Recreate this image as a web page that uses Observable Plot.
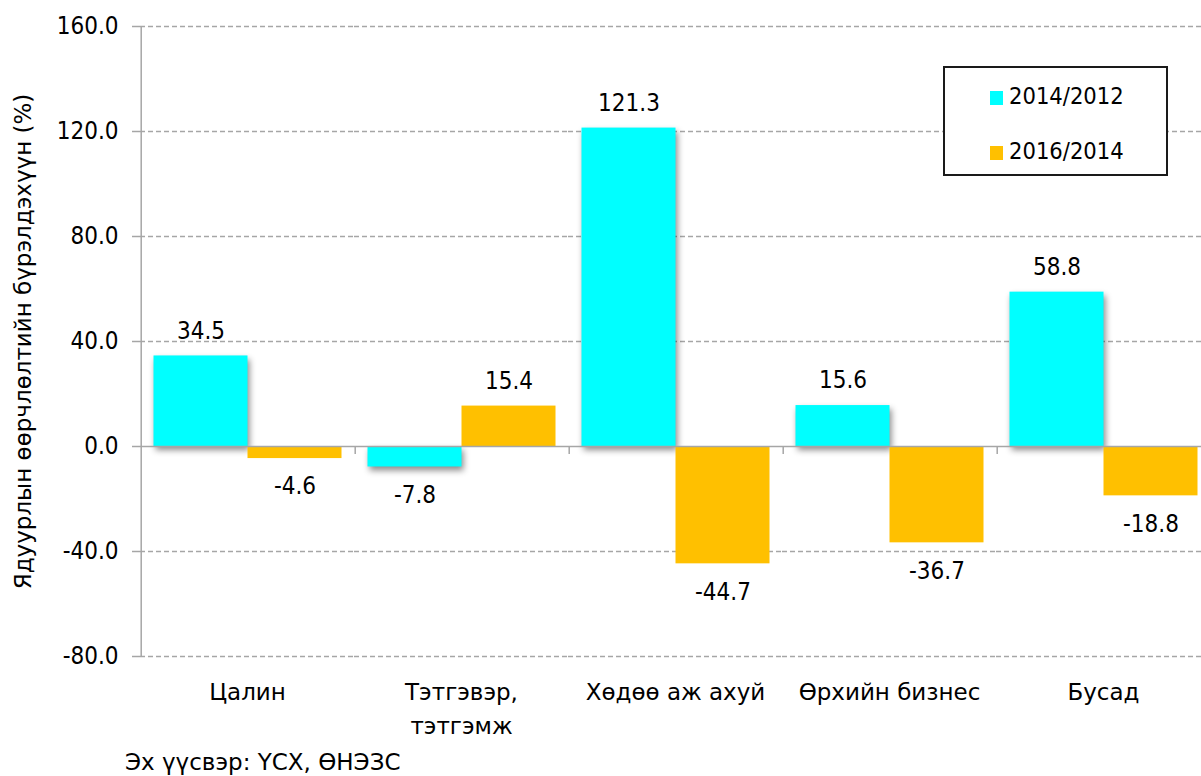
<!DOCTYPE html>
<html>
<head>
<meta charset="utf-8">
<script src="https://cdn.jsdelivr.net/npm/d3@7"></script>
<script src="https://cdn.jsdelivr.net/npm/@observablehq/plot@0.6"></script>
<style>
  html, body { margin: 0; padding: 0; background: #fff; overflow: hidden; }
  body { width: 1201px; height: 776px; position: relative;
         font-family: "DejaVu Sans", sans-serif; }
  #chart { position: absolute; left: 0; top: 0; }
  #legend { position: absolute; left: 943px; top: 66px; width: 221px; height: 106px;
            border: 2px solid #1a1a1a; background: #fff; box-sizing: content-box; }
  .item { position: absolute; left: 45px; font-size: 23.5px; line-height: 26px; height: 26px; white-space: nowrap;
          font-family: "DejaVu Sans Condensed", "DejaVu Sans", sans-serif; }
  .sw { display: inline-block; width: 13px; height: 14px; margin-right: 6px; vertical-align: -1px; }
  #caption { position: absolute; left: 125px; top: 750px; font-size: 23px; line-height: 24px; height: 24px; white-space: nowrap; }
</style>
</head>
<body>
<div id="chart"></div>
<div id="legend"></div>
<div id="caption"></div>
<script>
// ---- data ----
const categories = ["Цалин", "Тэтгэвэр,\nтэтгэмж", "Хөдөө аж ахуй", "Өрхийн бизнес", "Бусад"];
const series = ["2014/2012", "2016/2014"];
const values2014 = [34.5, -7.8, 121.3, 15.6, 58.8];
const values2016 = [-4.6, 15.4, -44.7, -36.7, -18.8];
const colors = ["#00FFFF", "#FFC000"];
const yTicks = [-80, -40, 0, 40, 80, 120, 160];
const yTitle = "Ядуурлын өөрчлөлтийн бүрэлдэхүүн (%)";
const sourceText = "Эх үүсвэр: ҮСХ, ӨНЭЗС";

const rows = categories.flatMap((c, i) => [
  {cat: c, series: series[0], value: values2014[i]},
  {cat: c, series: series[1], value: values2016[i]}
]);
const fmt = d => d.toFixed(1);
const gray = "#a6a6a6";
const numFont = "'DejaVu Sans Condensed','DejaVu Sans',sans-serif";
const txtFont = "'DejaVu Sans',sans-serif";
const halfGroup = 59.8; // px from a bar centre to the category edge

const shadow = (index, scales, values, dimensions, context, next) => {
  const g = next(index, scales, values, dimensions, context);
  g.style.filter = "drop-shadow(2px 4px 3px rgba(0,0,0,0.45))";
  return g;
};

const chart = Plot.plot({
  width: 1215,
  height: 745,
  marginLeft: 138.5,
  marginRight: 3.5,
  marginTop: 26,
  marginBottom: 89,
  style: {fontFamily: numFont, fontSize: "24px",
          color: "#000", background: "#fff", maxWidth: "none", overflow: "hidden"},
  fx: {domain: categories, paddingInner: 0, paddingOuter: 0, label: null},
  x: {domain: series, paddingInner: 0, paddingOuter: 0.13, axis: null},
  y: {domain: [-80, 160], label: null},
  marks: [
    Plot.gridY(yTicks.filter(d => d !== 0), {stroke: gray, strokeOpacity: 1, strokeWidth: 1.3, strokeDasharray: "5,3"}),
    Plot.barY(rows.filter(d => d.series === series[0]), {fx: "cat", x: "series", y: "value", fill: colors[0], render: shadow}),
    Plot.barY(rows.filter(d => d.series === series[1]), {fx: "cat", x: "series", y: "value", fill: colors[1]}),
    Plot.ruleY([0], {stroke: gray, strokeWidth: 1.5}),
    // category separators below the zero line
    Plot.ruleX(categories.slice(1), {fx: d => d, x: () => series[0], dx: -halfGroup, y1: 0, y2: -3.05, stroke: gray, strokeWidth: 1.5}),
    // y axis line
    Plot.ruleX(categories.slice(0, 1), {fx: d => d, x: () => series[0], dx: -halfGroup, y1: -80, y2: 160, stroke: gray, strokeWidth: 1.5}),
    Plot.axisY(yTicks, {tickFormat: fmt, tickSize: 8, tickPadding: 14, stroke: gray, strokeWidth: 1.5, fill: "#000",
      fontSize: 24, fontFamily: numFont, label: null}),
    Plot.axisY({ticks: [], tickSize: 0, label: yTitle, labelAnchor: "center", labelArrow: "none", labelOffset: 126,
      fontSize: 23, fontFamily: txtFont, fill: "#000"}),
    Plot.axisFx({anchor: "bottom", tickSize: 0, tickPadding: 19, lineHeight: 1.48, label: null, fontSize: 23,
      fontFamily: txtFont, fill: "#000"}),
    Plot.text(rows.filter(d => d.value >= 0), {fx: "cat", x: "series", y: "value", text: d => fmt(d.value),
      dy: -25, lineAnchor: "middle", fontSize: 24, fontFamily: numFont, fill: "#000"}),
    Plot.text(rows.filter(d => d.value < 0), {fx: "cat", x: "series", y: "value", text: d => fmt(d.value),
      dy: 28, lineAnchor: "middle", fontSize: 24, fontFamily: numFont, fill: "#000"})
  ]
});
document.getElementById("chart").appendChild(chart);

// legend
const legend = document.getElementById("legend");
series.forEach((s, i) => {
  const it = document.createElement("div");
  it.className = "item";
  it.style.top = (i === 0 ? 15 : 70) + "px";
  const sw = document.createElement("span");
  sw.className = "sw";
  sw.style.background = colors[i];
  it.appendChild(sw);
  it.appendChild(document.createTextNode(s));
  legend.appendChild(it);
});
document.getElementById("caption").textContent = sourceText;
</script>
</body>
</html>
